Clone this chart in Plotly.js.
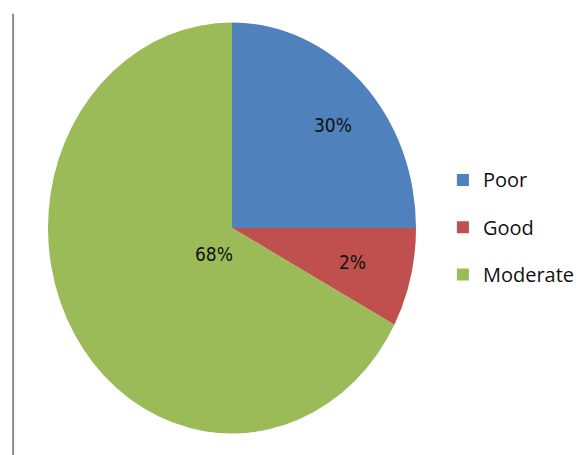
<!DOCTYPE html>
<html>
<head>
<meta charset="utf-8">
<script src="https://cdn.plot.ly/plotly-3.0.1.min.js"></script>
<style>
  html, body { margin: 0; padding: 0; background: #ffffff; }
  #chart { width: 582px; height: 455px; }
</style>
</head>
<body>
<div id="chart"></div>
<script>
// Categories and slice shares as drawn in the reference
const categories = ["Poor", "Good", "Moderate"];
const sliceShares = [25, 7.8, 67.2];
// Percent labels printed on the slices
const sliceLabels = ["30%", "2%", "68%"];
const sliceColors = ["#4F81BD", "#C0504D", "#9BBB59"];
// Label anchor spots (paper fractions) for each slice label
const labelX = [0.572, 0.605, 0.368];
const labelY = [0.725, 0.424, 0.442];

const legendLabels = categories.map(c => '<span style="font-size:20px;baseline-shift:6px">' + c + '</span>');

const trace = {
  type: "pie",
  labels: legendLabels,
  values: sliceShares,
  text: sliceLabels,
  textinfo: "none",
  sort: false,
  direction: "clockwise",
  rotation: 0,
  hoverinfo: "label+text",
  marker: { colors: sliceColors, line: { width: 0 } },
  domain: { x: [0.0636, 0.7337], y: [0.0703, 0.9275] }
};

const labelAnnots = sliceLabels.map((t, i) => ({
  text: t, xref: "paper", yref: "paper", x: labelX[i], y: labelY[i],
  xanchor: "center", yanchor: "middle", showarrow: false,
  font: { family: "DejaVu Sans Condensed, Liberation Sans, sans-serif", size: 19, color: "#111111" }
}));

const layout = {
  width: 582,
  height: 455,
  margin: { l: 0, r: 0, t: 0, b: 0 },
  paper_bgcolor: "#ffffff",
  showlegend: true,
  legend: {
    x: 0.761, y: 0.667, xanchor: "left", yanchor: "top",
    font: { family: "Open Sans", size: 34, color: "#111111" },
    bgcolor: "rgba(0,0,0,0)"
  },
  annotations: labelAnnots,
  shapes: [
    { type: "line", xref: "paper", yref: "paper", x0: 0.0225, x1: 0.0225, y0: 0, y1: 0.97,
      line: { color: "#8c8c8c", width: 2 } }
  ]
};

Plotly.newPlot("chart", [trace], layout, { displayModeBar: false, staticPlot: true }).then(gd => {
  // the reference pie is a slightly tall ellipse: stretch the drawn pie about its centre
  const pl = gd.querySelector(".pielayer");
  if (pl) pl.setAttribute("transform", "translate(232,228) scale(0.9436,1.0538) translate(-232,-228)");
});
</script>
</body>
</html>
